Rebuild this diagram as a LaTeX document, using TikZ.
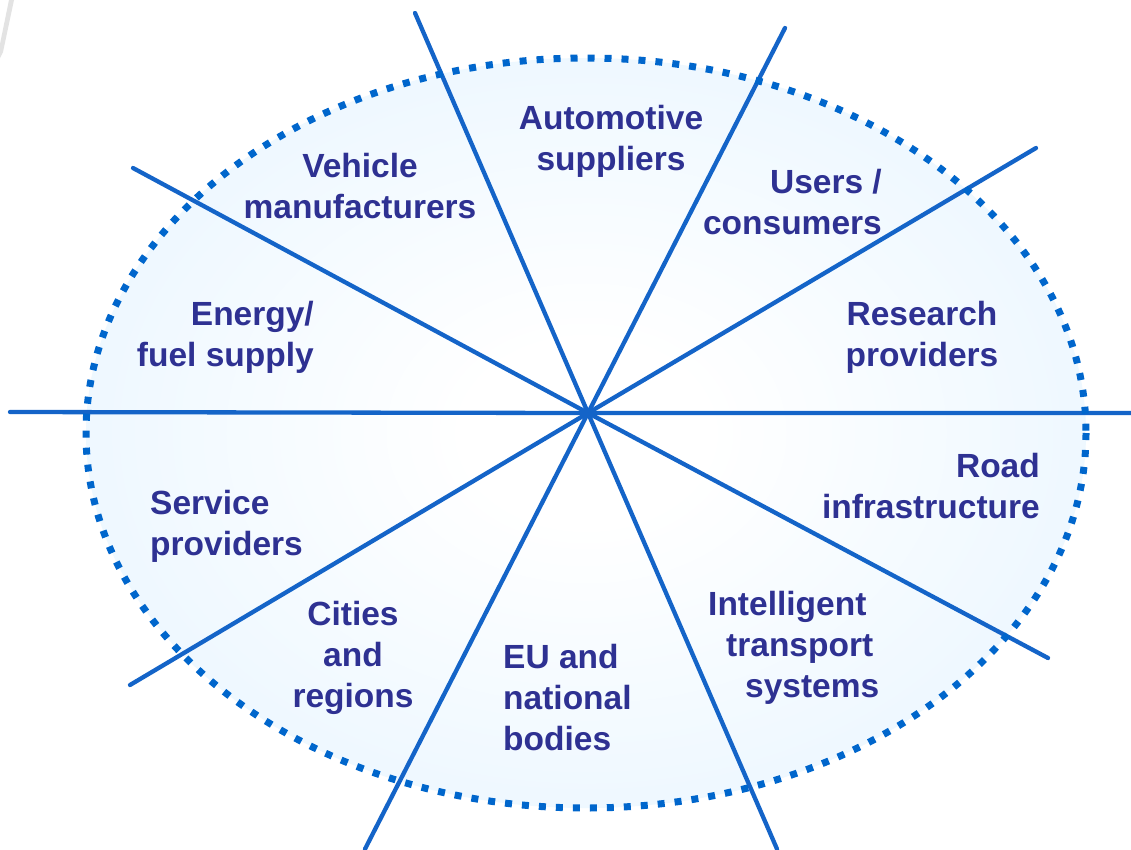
\documentclass[tikz,border=0pt]{standalone}
\usepackage{fontspec}
\setmainfont{Liberation Sans}
\definecolor{edgeblue}{RGB}{222,241,255}
\definecolor{midblue}{RGB}{234,246,255}
\definecolor{dotblue}{RGB}{0,102,204}
\definecolor{lineblue}{RGB}{20,100,200}
\definecolor{txt}{RGB}{46,49,146}
\pgfdeclareradialshading{ellshade}{\pgfpoint{0bp}{0bp}}{color(0bp)=(white); color(6bp)=(white); color(30bp)=(midblue); color(50bp)=(edgeblue); color(100bp)=(edgeblue)}
\begin{document}
\begin{tikzpicture}[x=1pt,y=-1pt,
  spoke/.style={draw=lineblue,line width=4.3pt,line cap=round},
  lbl/.style={inner sep=0pt,text=txt,font=\bfseries\fontsize{33.5}{41}\selectfont,anchor=base}]
\useasboundingbox (0,0) rectangle (1131,849);
\fill[white] (0,0) rectangle (1131,849);
\fill[gray!22] (9,0) -- (14,0) -- (3,52) -- (0,58) -- (0,44) -- cycle;
% shaded ellipse
\shade[shading=ellshade] (586,433) ellipse [x radius=500, y radius=375];
% spokes
\coordinate (c) at (588,413);
\coordinate (h1) at (10,412);   \coordinate (h2) at (1135,413);
\coordinate (a1) at (415,13);   \coordinate (a2) at (777,849);
\coordinate (b1) at (785,28);   \coordinate (b2) at (365,849);
\coordinate (d1) at (1036,148); \coordinate (d2) at (130,685);
\coordinate (e1) at (133,168);  \coordinate (e2) at (1048,658);
\path[spoke] (h1) -- (c) -- (h2);
\path[spoke] (a1) -- (c) -- (a2);
\path[spoke] (b1) -- (c) -- (b2);
\path[spoke] (d1) -- (c) -- (d2);
\path[spoke] (e1) -- (c) -- (e2);
% dotted border
\draw[dotblue,line width=7pt,dash pattern=on 7pt off 10pt] (586,433) ellipse [x radius=500, y radius=375];
% labels (base anchor = baseline of last line)
\node[lbl,align=center] (veh) at (360,218) {Vehicle\\manufacturers};
\node[lbl,align=center] (aut) at (611,170) {Automotive\\suppliers};
\node[lbl,align=right,anchor=base east] (usr) at (882,234) {Users /\\consumers};
\node[lbl,align=center] (res) at (922,366) {Research\\providers};
\node[lbl,align=right,anchor=base east] (ene) at (314,366) {Energy/\\fuel supply};
\node[lbl,align=right,anchor=base east] (road) at (1040,518) {Road\\infrastructure};
\node[lbl,align=left,anchor=base west] (serv) at (150,555) {Service\\providers};
\node[lbl,align=center] (city) at (353,707) {Cities\\and\\regions};
\node[lbl,align=left,anchor=base west] (eu) at (503,750) {EU and\\national\\bodies};
\node[lbl,align=left,anchor=base west] (its) at (708,697) {Intelligent\\\hspace*{18pt}transport\\\hspace*{37pt}systems};
\end{tikzpicture}
\end{document}
